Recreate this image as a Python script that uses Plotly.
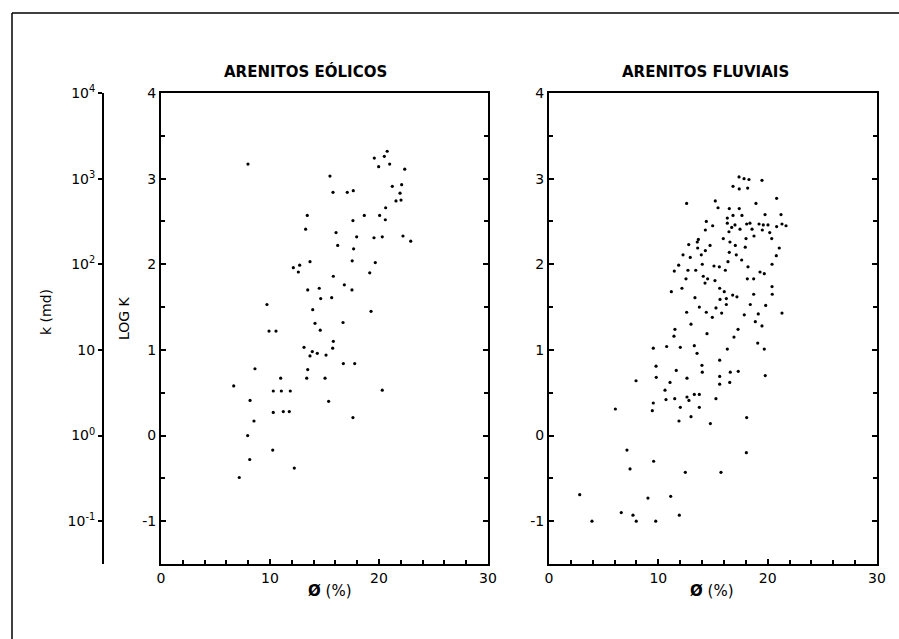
import plotly.graph_objects as go

# ---------------- data ----------------
eolicos_phi = [20.75, 19.57, 20.49, 19.97, 20.98, 22.36, 15.50, 21.22, 22.08, 15.78, 17.09, 17.64,
               21.93, 21.56, 22.02, 20.61, 13.42, 18.65, 20.06, 20.58, 17.61, 13.27, 16.06, 17.95,
               19.54, 20.30, 22.20, 22.91, 16.21, 17.67, 13.67, 12.14, 12.72, 12.60, 17.54, 19.66,
               19.15, 15.81, 16.82, 14.52, 13.46, 17.52, 14.65, 15.66, 9.72, 13.92, 19.27, 14.13,
               16.70, 9.91, 10.55, 14.61, 15.81, 13.12, 15.75, 13.88, 14.34, 13.67, 15.14, 16.73,
               17.77, 8.62, 13.46, 10.98, 13.37, 15.05, 6.67, 10.30, 11.04, 11.86, 20.30, 8.17,
               15.38, 10.30, 11.22, 11.77, 8.53, 17.61, 7.95, 10.25, 8.14, 12.23, 7.18, 7.98]
eolicos_logk = [3.32, 3.24, 3.26, 3.14, 3.17, 3.11, 3.03, 2.91, 2.93, 2.84, 2.84, 2.86,
                2.83, 2.74, 2.75, 2.66, 2.57, 2.57, 2.57, 2.52, 2.51, 2.41, 2.37, 2.32,
                2.31, 2.32, 2.33, 2.27, 2.22, 2.18, 2.03, 1.96, 1.99, 1.91, 2.04, 2.02,
                1.90, 1.86, 1.76, 1.72, 1.70, 1.70, 1.60, 1.61, 1.53, 1.47, 1.45, 1.31,
                1.32, 1.22, 1.22, 1.23, 1.10, 1.03, 1.02, 0.98, 0.96, 0.93, 0.94, 0.84,
                0.84, 0.78, 0.77, 0.67, 0.67, 0.67, 0.58, 0.52, 0.52, 0.52, 0.53, 0.41,
                0.40, 0.27, 0.28, 0.28, 0.17, 0.21, 0.00, -0.17, -0.28, -0.38, -0.49, 3.17]

fluviais_phi = [11.43, 14.45, 16.92, 9.54, 10.76, 12.01, 13.29, 16.31, 13.54, 15.61, 9.79, 13.99,
                11.64, 14.02, 16.58, 17.31, 7.96, 9.81, 12.62, 15.61, 11.07, 16.53, 15.61, 10.61,
                13.75, 13.29, 12.62, 12.80, 10.70, 11.50, 15.27, 9.54, 12.01, 13.75, 6.07, 9.45,
                12.99, 11.89, 14.76, 7.13, 9.57, 7.41, 12.47, 15.73, 2.81, 9.05, 11.13, 6.61,
                7.68, 3.93, 7.98, 9.76, 11.92,
                12.59, 15.21, 15.46, 14.39, 14.97, 14.30, 13.66, 13.56, 12.78, 14.73, 13.60, 14.30,
                12.26, 12.92, 13.93, 11.86, 14.02, 15.09, 15.58, 11.46, 12.71, 13.42, 12.53, 14.11,
                14.51, 15.18, 14.27, 11.19, 12.16, 15.61, 13.35, 15.64, 12.59, 13.75, 14.39, 15.27,
                14.94, 12.99, 11.52,
                17.38, 17.84, 18.29, 19.48, 16.83, 17.40, 18.17, 20.82, 18.93, 16.49, 17.40, 16.83,
                17.65, 19.76, 21.22, 16.31, 16.31, 17.01, 16.71, 17.47, 18.08, 18.38, 19.21, 19.60,
                20.03, 20.82, 21.31, 21.68, 16.46, 18.57, 19.51, 20.19, 18.75, 15.94, 18.02, 20.37,
                16.55, 17.04, 17.95, 21.06, 16.49, 17.13, 20.79, 17.62, 16.37, 20.40, 16.13, 18.20,
                19.30, 19.69, 18.14, 18.72, 20.40, 16.03, 16.22, 16.80, 17.19, 18.72, 20.42, 16.22,
                18.41, 19.82, 15.79, 17.86, 19.14, 21.31, 18.87, 19.48, 17.29, 19.09, 19.69, 19.78,
                18.08, 18.05]
fluviais_logk = [1.16, 1.19, 1.15, 1.02, 1.04, 1.03, 1.05, 1.01, 0.96, 0.88, 0.81, 0.82,
                 0.76, 0.74, 0.74, 0.75, 0.64, 0.68, 0.67, 0.69, 0.62, 0.62, 0.60, 0.53,
                 0.48, 0.48, 0.45, 0.41, 0.42, 0.43, 0.43, 0.38, 0.33, 0.33, 0.31, 0.29,
                 0.22, 0.17, 0.14, -0.17, -0.30, -0.39, -0.43, -0.43, -0.69, -0.73, -0.71, -0.90,
                 -0.93, -1.00, -1.00, -1.00, -0.93,
                 2.71, 2.74, 2.66, 2.50, 2.45, 2.40, 2.29, 2.26, 2.23, 2.22, 2.19, 2.16,
                 2.11, 2.08, 2.11, 1.99, 2.00, 1.98, 1.97, 1.92, 1.93, 1.93, 1.83, 1.86,
                 1.83, 1.81, 1.78, 1.68, 1.72, 1.72, 1.61, 1.59, 1.44, 1.50, 1.44, 1.49,
                 1.38, 1.30, 1.24,
                 3.02, 3.00, 2.99, 2.98, 2.91, 2.88, 2.89, 2.77, 2.71, 2.65, 2.65, 2.57,
                 2.57, 2.58, 2.58, 2.54, 2.48, 2.46, 2.43, 2.41, 2.47, 2.48, 2.47, 2.46,
                 2.46, 2.44, 2.47, 2.45, 2.38, 2.41, 2.40, 2.37, 2.33, 2.30, 2.30, 2.30,
                 2.26, 2.22, 2.20, 2.19, 2.14, 2.11, 2.10, 2.05, 2.03, 2.00, 1.93, 1.97,
                 1.91, 1.89, 1.83, 1.83, 1.74, 1.68, 1.60, 1.64, 1.62, 1.65, 1.65, 1.53,
                 1.53, 1.52, 1.43, 1.41, 1.42, 1.43, 1.33, 1.28, 1.24, 1.08, 1.01, 0.70,
                 0.21, -0.20]

panel_titles = ["ARENITOS EÓLICOS", "ARENITOS FLUVIAIS"]
x_tickvals = [0, 10, 20, 30]
y_tickvals = [-1, 0, 1, 2, 3, 4]
y_ticktext = ["-1", "0", "1", "2", "3", "4"]
k_tickvals = [0.1, 1, 10, 100, 1000, 10000]
k_ticktext = ["10<sup>-1</sup>", "10<sup>0</sup>", "10", "10<sup>2</sup>", "10<sup>3</sup>", "10<sup>4</sup>"]

# ---------------- figure ----------------
W, H = 899, 639
FONT = "DejaVu Sans"

def px_x(v):
    return v / W

def px_y(v):
    return 1 - v / H

fig = go.Figure()
marker = dict(color="black", size=3.2)
fig.add_trace(go.Scatter(x=eolicos_phi, y=eolicos_logk, mode="markers", marker=marker,
                         xaxis="x", yaxis="y", showlegend=False))
fig.add_trace(go.Scatter(x=fluviais_phi, y=fluviais_logk, mode="markers", marker=marker,
                         xaxis="x2", yaxis="y2", showlegend=False))
fig.add_trace(go.Scatter(x=[None], y=[None], xaxis="x", yaxis="y3", showlegend=False,
                         hoverinfo="skip"))

ydom = [px_y(564), px_y(93)]
tickfont = dict(family=FONT, size=14, color="black")

def xax(dom, anchor):
    return dict(domain=dom, range=[0, 30], anchor=anchor, showline=True, linewidth=2,
                linecolor="black", mirror=True, ticks="inside", ticklen=5, tickwidth=2,
                tickcolor="black", tickvals=x_tickvals, showgrid=False, zeroline=False,
                tickfont=tickfont, automargin=False,
                minor=dict(dtick=2, ticks="inside", ticklen=4, tickwidth=2, tickcolor="black",
                           showgrid=False))

def yax(anchor):
    return dict(domain=ydom, range=[-1.5, 4], anchor=anchor, showline=True, linewidth=2,
                linecolor="black", mirror="ticks", ticks="inside", ticklen=5, tickwidth=2,
                tickcolor="black", tickvals=y_tickvals, ticktext=y_ticktext,
                showgrid=False, zeroline=False, tickfont=tickfont, automargin=False,
                minor=dict(dtick=0.5, ticks="inside", ticklen=4, tickwidth=2, tickcolor="black",
                           showgrid=False))

fig.update_layout(
    width=W, height=H, margin=dict(l=0, r=0, t=0, b=0, pad=0, autoexpand=False),
    paper_bgcolor="white", plot_bgcolor="white",
    xaxis=xax([px_x(161), px_x(488)], "y"),
    yaxis=yax("x"),
    xaxis2=xax([px_x(549), px_x(877)], "y2"),
    yaxis2=yax("x2"),
    yaxis3=dict(overlaying="y", anchor="free", position=px_x(103), side="left", type="log",
                range=[-1.5, 4], showline=True, linewidth=2, linecolor="black",
                ticks="outside", ticklen=4, tickwidth=2, tickcolor="black",
                tickvals=k_tickvals, ticktext=k_ticktext, showgrid=False, zeroline=False,
                tickfont=tickfont, automargin=False),
)

annotations = []
title_font = dict(family=FONT, size=15, color="black")
for xc, txt in zip([305, 705], panel_titles):
    annotations.append(dict(x=px_x(xc), y=px_y(72), xref="paper", yref="paper", text="<b>" + txt + "</b>",
                            showarrow=False, xanchor="center", yanchor="middle", font=title_font))
for xc in [330, 712]:
    annotations.append(dict(x=px_x(xc), y=px_y(591), xref="paper", yref="paper", text="<b>Ø</b> (%)",
                            showarrow=False, xanchor="center", yanchor="middle",
                            font=dict(family=FONT, size=15, color="black")))
annotations.append(dict(x=px_x(124), y=px_y(318), xref="paper", yref="paper", text="LOG K",
                        showarrow=False, textangle=-90, xanchor="center", yanchor="middle",
                        font=dict(family=FONT, size=14, color="black")))
annotations.append(dict(x=px_x(46), y=px_y(312), xref="paper", yref="paper", text="k (md)",
                        showarrow=False, textangle=-90, xanchor="center", yanchor="middle",
                        font=dict(family=FONT, size=14, color="black")))
fig.update_layout(annotations=annotations)

fig.update_layout(shapes=[
    dict(type="line", xref="paper", yref="paper", x0=px_x(12), x1=1, y0=px_y(13), y1=px_y(13),
         line=dict(color="black", width=1.5)),
    dict(type="line", xref="paper", yref="paper", x0=px_x(12), x1=px_x(12), y0=px_y(13), y1=0,
         line=dict(color="black", width=1.5)),
])

fig.write_html("out.html", config={"displayModeBar": False},
               post_script="document.body.style.margin='0';document.body.style.overflow='hidden';")
